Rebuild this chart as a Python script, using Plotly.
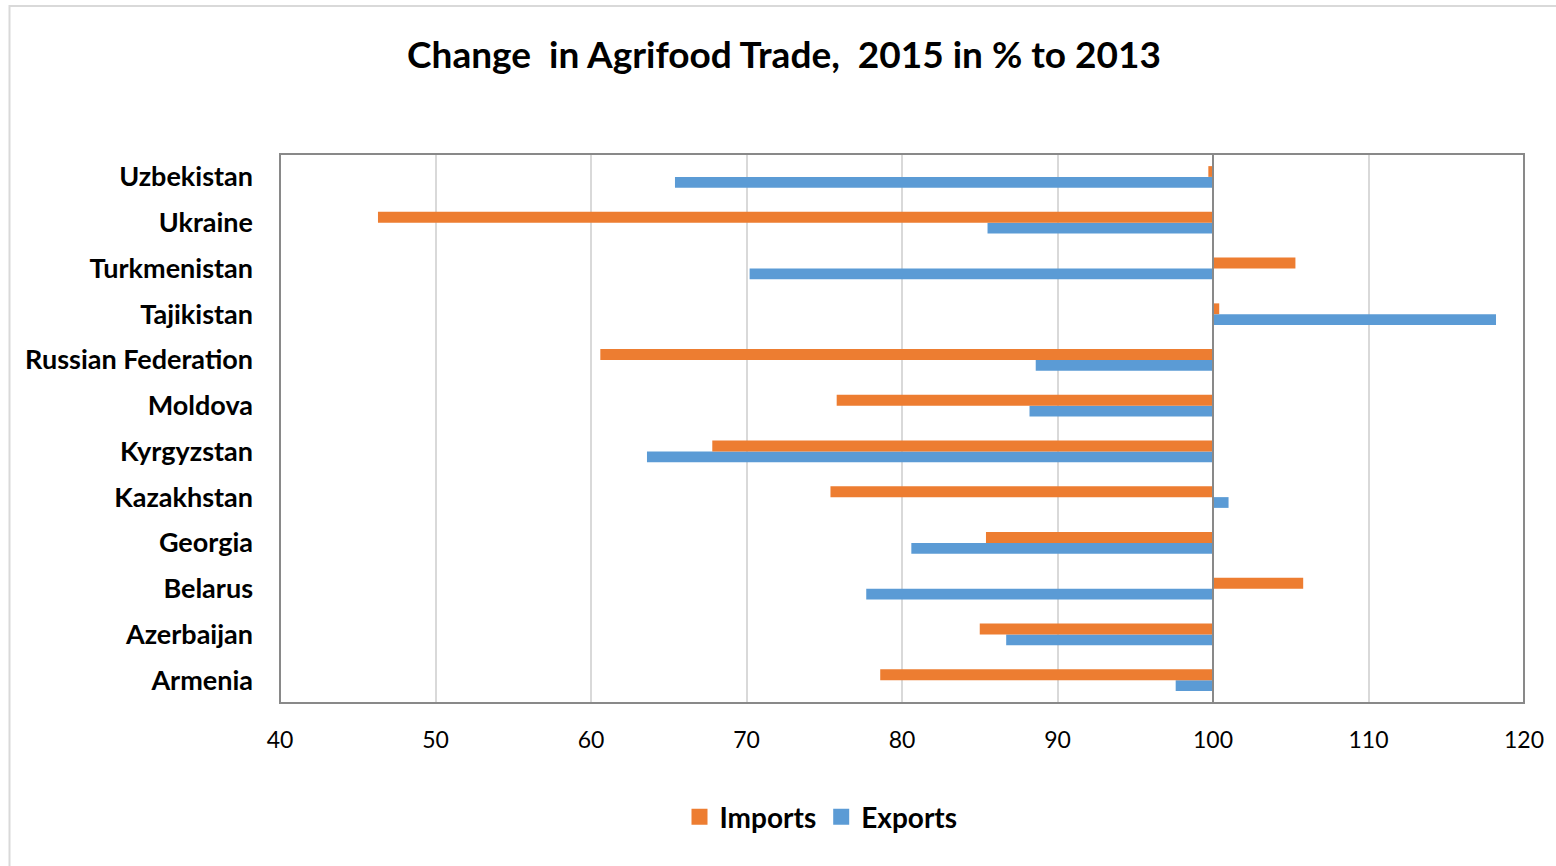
import plotly.graph_objects as go

# Countries, bottom to top
countries = ["Armenia", "Azerbaijan", "Belarus", "Georgia", "Kazakhstan", "Kyrgyzstan",
             "Moldova", "Russian Federation", "Tajikistan", "Turkmenistan", "Ukraine", "Uzbekistan"]

# 2015 agrifood trade as % of 2013
imports = [78.6, 85.0, 105.8, 85.4, 75.4, 67.8, 75.8, 60.6, 100.4, 105.3, 46.3, 99.7]
exports = [97.6, 86.7, 77.7, 80.6, 101.0, 63.6, 88.2, 88.6, 118.2, 70.2, 85.5, 65.4]

x_ticks = [40, 50, 60, 70, 80, 90, 100, 110, 120]
BASE = 100

ORANGE = "#ED7D31"
BLUE = "#5B9BD5"
FONT = "Lato"

fig = go.Figure()
fig.add_trace(go.Bar(
    name="Exports", y=countries, x=[v - BASE for v in exports], base=BASE,
    orientation="h", marker=dict(color=BLUE, line=dict(width=0)), showlegend=False,
))
fig.add_trace(go.Bar(
    name="Imports", y=countries, x=[v - BASE for v in imports], base=BASE,
    orientation="h", marker=dict(color=ORANGE, line=dict(width=0)), showlegend=False,
))

# Legend entries with square swatches
for name, color in [("Imports", ORANGE), ("Exports", BLUE)]:
    fig.add_trace(go.Scatter(
        x=[None], y=[None], mode="markers", name="<b>" + name + "</b>",
        marker=dict(symbol="square", size=16, color=color),
        hoverinfo="skip",
    ))

# Plot area frame
plot_l, plot_r, plot_t, plot_b = 280, 1524, 154, 703
W, H = 1556, 866
pw, ph = plot_r - plot_l, plot_b - plot_t

def px_x(v):
    return (v - plot_l) / pw

def px_y(v):
    return (plot_b - v) / ph

fig.update_layout(
    width=W, height=H,
    margin=dict(l=plot_l, r=W - plot_r, t=plot_t, b=H - plot_b, pad=0),
    paper_bgcolor="white", plot_bgcolor="white",
    barmode="group", bargap=0.53, bargroupgap=0,
    title=dict(
        text="<b>Change  in Agrifood Trade,  2015 in % to 2013</b>",
        x=784 / W, xanchor="center", y=1 - 55 / H, yanchor="middle",
        font=dict(family=FONT, size=37, color="black"),
    ),
    xaxis=dict(
        range=[40, 120], tickvals=x_ticks, ticktext=[str(t) for t in x_ticks],
        showgrid=True, gridcolor="#d9d9d9", gridwidth=2, zeroline=False,
        showline=False, ticks="", ticklabelstandoff=21,
        tickfont=dict(family=FONT, size=23, color="black"),
        fixedrange=True,
    ),
    yaxis=dict(
        type="category", categoryorder="array", categoryarray=countries,
        showgrid=False, zeroline=False, showline=False, ticks="",
        ticklabelstandoff=26,
        tickfont=dict(family=FONT, size=27, color="black"),
        tickprefix="<b>", ticksuffix="</b>",
    ),
    legend=dict(
        orientation="h",
        x=821 / W, xanchor="center", y=1 - 817 / H, yanchor="middle",
        xref="container", yref="container",
        font=dict(family=FONT, size=28, color="black"),
        itemwidth=30,
        bgcolor="rgba(0,0,0,0)",
    ),
    showlegend=True,
    shapes=[
        # outer chart border
        dict(type="rect", xref="paper", yref="paper",
             x0=px_x(9.5), x1=px_x(1570), y0=px_y(6), y1=px_y(900),
             line=dict(color="#d9d9d9", width=2), layer="below"),
        # plot area frame
        dict(type="rect", xref="paper", yref="paper", x0=0, x1=1, y0=0, y1=1,
             line=dict(color="#898989", width=2), layer="above"),
        # reference line at 100
        dict(type="line", xref="x", yref="paper", x0=BASE, x1=BASE, y0=0, y1=1,
             line=dict(color="#898989", width=2), layer="above"),
    ],
)

fig.write_html("out.html")
